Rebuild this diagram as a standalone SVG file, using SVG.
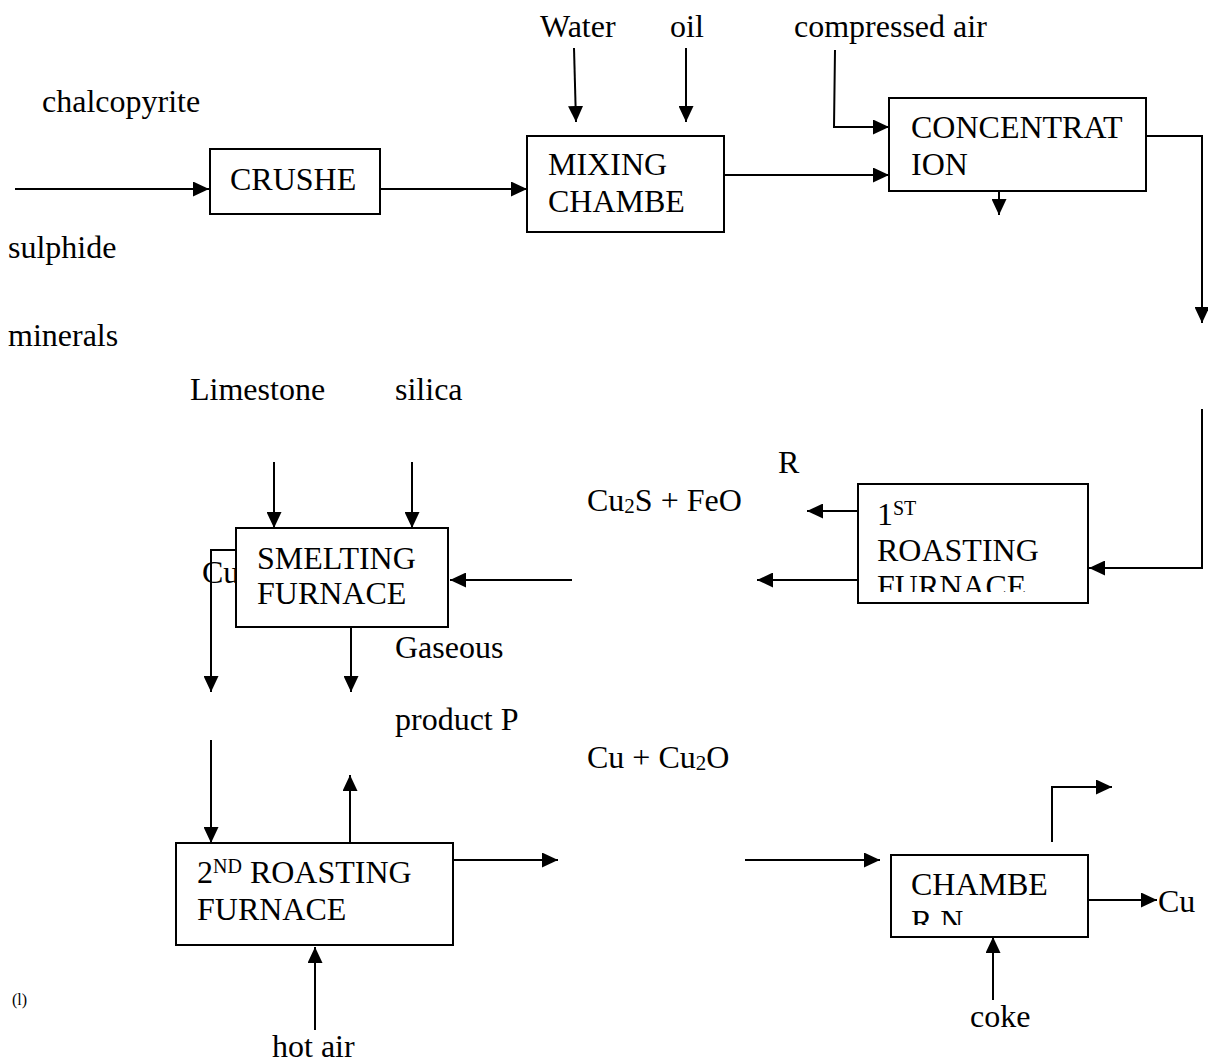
<svg xmlns="http://www.w3.org/2000/svg" width="1208" height="1064" viewBox="0 0 1208 1064">
  <style>
    text { font-family: "Liberation Serif", "Times New Roman", serif; font-size: 32px; fill: #000; }
    .box { fill: #fff; stroke: #000; stroke-width: 2; }
    .wire { fill: none; stroke: #000; stroke-width: 2; }
    .arrow { marker-end: url(#head); }
    .sup { font-size: 20px; }
    .sub { font-size: 21px; }
    .small { font-size: 16px; }
  </style>
  <defs>
    <marker id="head" markerUnits="userSpaceOnUse" markerWidth="16" markerHeight="15" refX="16" refY="7.5" orient="auto">
      <path d="M0,0 L16,7.5 L0,15 z" fill="#000"/>
    </marker>
    <clipPath id="clip-crusher"><rect x="211" y="150" width="168" height="56"/></clipPath>
    <clipPath id="clip-mixing"><rect x="528" y="137" width="195" height="88"/></clipPath>
    <clipPath id="clip-conc"><rect x="890" y="99" width="255" height="85"/></clipPath>
    <clipPath id="clip-roast1"><rect x="859" y="485" width="228" height="107"/></clipPath>
    <clipPath id="clip-chamber"><rect x="892" y="856" width="195" height="69"/></clipPath>
  </defs>

  <!-- free-standing labels -->
  <g id="labels">
    <text x="42" y="112">chalcopyrite</text>
    <text x="8" y="258">sulphide</text>
    <text x="8" y="346">minerals</text>
    <text x="540" y="37">Water</text>
    <text x="670" y="37">oil</text>
    <text x="794" y="37">compressed air</text>
    <text x="190" y="400">Limestone</text>
    <text x="395" y="400">silica</text>
    <text x="778" y="473">R</text>
    <text x="587" y="511">Cu<tspan class="sub" dy="2">2</tspan><tspan dy="-2">S + FeO</tspan></text>
    <text x="202" y="583">Cu</text>
    <text x="395" y="658">Gaseous</text>
    <text x="395" y="730">product P</text>
    <text x="587" y="768">Cu + Cu<tspan class="sub" dy="2">2</tspan><tspan dy="-2">O</tspan></text>
    <text x="1158" y="912">Cu</text>
    <text x="970" y="1027">coke</text>
    <text x="272" y="1057">hot air</text>
    <text class="small" x="12" y="1005">(l)</text>
  </g>

  <!-- connectors -->
  <g id="connectors">
    <path class="wire arrow" d="M15,189 L209,189"/>
    <path class="wire arrow" d="M380,189 L527,189"/>
    <path class="wire arrow" d="M574,48 L576,122"/>
    <path class="wire arrow" d="M686,48 L686,122"/>
    <path class="wire arrow" d="M724,175 L889,175"/>
    <path class="wire arrow" d="M835,50 L834,127 L889,127"/>
    <path class="wire arrow" d="M999,191 L999,215"/>
    <path class="wire arrow" d="M1146,136 L1202,136 L1202,323"/>
    <path class="wire arrow" d="M1202,409 L1202,568 L1089,568"/>
    <path class="wire arrow" d="M858,511 L807,511"/>
    <path class="wire arrow" d="M858,580 L757,580"/>
    <path class="wire arrow" d="M572,580 L450,580"/>
    <path class="wire arrow" d="M274,462 L274,528"/>
    <path class="wire arrow" d="M412,462 L412,528"/>
    <path class="wire arrow" d="M236,550 L211,550 L211,692"/>
    <path class="wire arrow" d="M351,627 L351,692"/>
    <path class="wire arrow" d="M211,740 L211,843"/>
    <path class="wire arrow" d="M350,843 L350,775"/>
    <path class="wire arrow" d="M453,860 L558,860"/>
    <path class="wire arrow" d="M745,860 L880,860"/>
    <path class="wire arrow" d="M1088,900 L1157,900"/>
    <path class="wire arrow" d="M1052,842 L1052,787 L1112,787"/>
    <path class="wire arrow" d="M993,1000 L993,937"/>
    <path class="wire arrow" d="M315,1030 L315,947"/>
  </g>

  <!-- process units -->
  <g id="crusher">
    <rect class="box" x="210" y="149" width="170" height="65"/>
    <g clip-path="url(#clip-crusher)">
      <text x="230" y="190">CRUSHE</text>
      <text x="230" y="227">R</text>
    </g>
  </g>

  <g id="mixing-chamber">
    <rect class="box" x="527" y="136" width="197" height="96"/>
    <g clip-path="url(#clip-mixing)">
      <text x="548" y="175">MIXING</text>
      <text x="548" y="212">CHAMBE</text>
    </g>
  </g>

  <g id="concentration">
    <rect class="box" x="889" y="98" width="257" height="93"/>
    <g clip-path="url(#clip-conc)">
      <text x="911" y="138">CONCENTRAT</text>
      <text x="911" y="175">ION</text>
    </g>
  </g>

  <g id="roasting-furnace-1">
    <rect class="box" x="858" y="484" width="230" height="119"/>
    <g clip-path="url(#clip-roast1)">
      <text x="877" y="525">1<tspan class="sup" dy="-10">ST</tspan></text>
      <text x="877" y="561">ROASTING</text>
      <text x="877" y="597">FURNACE</text>
    </g>
  </g>

  <g id="smelting-furnace">
    <rect class="box" x="236" y="528" width="212" height="99"/>
    <text x="257" y="569">SMELTING</text>
    <text x="257" y="604">FURNACE</text>
  </g>

  <g id="roasting-furnace-2">
    <rect class="box" x="176" y="843" width="277" height="102"/>
    <text x="197" y="883">2<tspan class="sup" dy="-10">ND</tspan><tspan dy="10"> ROASTING</tspan></text>
    <text x="197" y="920">FURNACE</text>
  </g>

  <g id="chamber">
    <rect class="box" x="891" y="855" width="197" height="82"/>
    <g clip-path="url(#clip-chamber)">
      <text x="911" y="895">CHAMBE</text>
      <text x="911" y="932">R N</text>
    </g>
  </g>
</svg>
